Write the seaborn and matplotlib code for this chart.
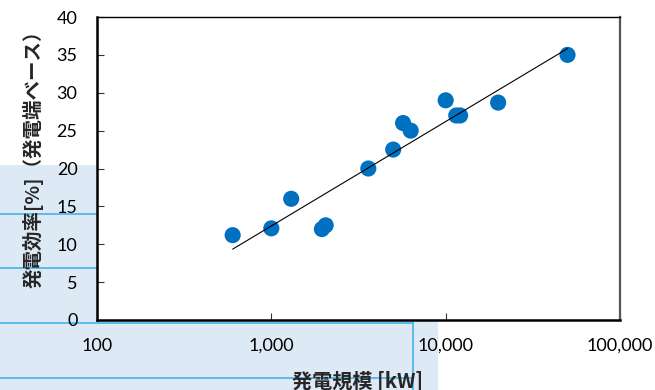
import numpy as np
import pandas as pd
import matplotlib
matplotlib.use("Agg")
import matplotlib.pyplot as plt
from matplotlib.patches import Rectangle
from matplotlib.lines import Line2D
import seaborn as sns

# Plant size [kW] and generating efficiency [%]
capacity_kw = [600, 1000, 1300, 1950, 2050, 3600, 5000, 5700, 6300, 10000, 11500, 12100, 20000, 50000]
efficiency = [11.2, 12.1, 16.0, 12.0, 12.5, 20.0, 22.5, 26.0, 25.0, 29.0, 27.0, 27.0, 28.7, 35.0]

x_ticks = [100, 1000, 10000, 100000]
x_tick_labels = ["100", "1,000", "10,000", "100,000"]
y_ticks = [0, 5, 10, 15, 20, 25, 30, 35, 40]

x_label = "発電規模 [kW]"
y_label = "発電効率[%]（発電端ベース）"

df = pd.DataFrame({"capacity": capacity_kw, "efficiency": efficiency})

sns.set_theme(style="white")
plt.rcParams["font.family"] = ["Lato", "Noto Sans CJK JP", "DejaVu Sans"]

fig = plt.figure(figsize=(6.55, 3.9), dpi=100)
fig.patch.set_facecolor("white")

# shaded panel with cyan rules behind the lower-left part of the figure
W, H = 655.0, 390.0
fig.patches.append(Rectangle((0, 0), 438 / W, (H - 165) / H, transform=fig.transFigure,
                             facecolor="#dde9f5", edgecolor="none", zorder=-2))
rule = dict(color="#45b4e6", lw=1.2, transform=fig.transFigure, zorder=-1)
for yy, x1 in [(214, 97), (268, 97), (323, 413), (378, 413)]:
    fig.lines.append(Line2D([0, x1 / W], [(H - yy) / H] * 2, **rule))
fig.lines.append(Line2D([413 / W, 413 / W], [0, (H - 323) / H], **rule))

ax = fig.add_axes([97 / W, (H - 320) / H, (620 - 97) / W, (320 - 17) / H])
ax.set_facecolor("white")

sns.scatterplot(data=df, x="capacity", y="efficiency", ax=ax, s=135,
                color="#0070c0", edgecolor="none", linewidth=0, zorder=3)

# logarithmic trend line fitted to the points
coef = np.polyfit(np.log10(df["capacity"]), df["efficiency"], 1)
xs = np.array([df["capacity"].min(), df["capacity"].max()])
ax.plot(xs, np.polyval(coef, np.log10(xs)), color="black", lw=0.8, zorder=4)

ax.set_xscale("log")
ax.set_xlim(100, 100000)
ax.set_ylim(0, 40)
ax.set_xticks(x_ticks)
ax.set_xticklabels(x_tick_labels)
ax.minorticks_off()
ax.set_yticks(y_ticks)
ax.set_yticklabels([str(v) for v in y_ticks])
ax.tick_params(axis="x", direction="in", length=5, width=0.8, color="#333333",
               pad=13, labelsize=13, labelcolor="black", bottom=True)
ax.tick_params(axis="y", direction="in", length=5, width=0.8, color="#333333",
               pad=14, labelsize=13, labelcolor="black", left=True)
ax.set_xlabel("")
ax.set_ylabel("")

for side, lw, col in [("left", 1.8, "black"), ("bottom", 1.8, "black"),
                      ("top", 1.0, "black"), ("right", 1.6, "#555555")]:
    ax.spines[side].set_visible(True)
    ax.spines[side].set_linewidth(lw)
    ax.spines[side].set_color(col)

fig.text(33 / W, (H - 154) / H, y_label, rotation=90, ha="center", va="center",
         fontsize=14, fontweight="bold", family=["Noto Sans CJK JP", "DejaVu Sans"])
fig.text(358 / W, (H - 381) / H, x_label, ha="center", va="center",
         fontsize=14.5, fontweight="bold", family=["Noto Sans CJK JP", "DejaVu Sans"])

fig.savefig("out.png", dpi=100, facecolor="white")
